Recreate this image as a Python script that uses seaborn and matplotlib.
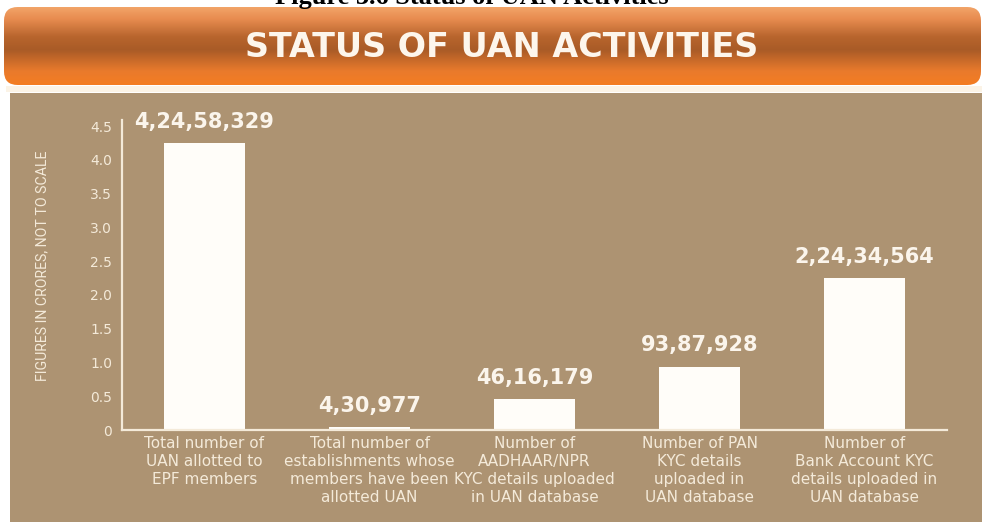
import matplotlib
matplotlib.use("Agg")
import matplotlib.pyplot as plt
import numpy as np
import pandas as pd
import seaborn as sns
from matplotlib.patches import Rectangle, FancyBboxPatch
from matplotlib.colors import LinearSegmentedColormap

# ---- data -------------------------------------------------------------
categories = [
    "Total number of\nUAN allotted to\nEPF members",
    "Total number of\nestablishments whose\nmembers have been\nallotted UAN",
    "Number of\nAADHAAR/NPR\nKYC details uploaded\nin UAN database",
    "Number of PAN\nKYC details\nuploaded in\nUAN database",
    "Number of\nBank Account KYC\ndetails uploaded in\nUAN database",
]
counts = [42458329, 430977, 4616179, 9387928, 22434564]
y_ticks = [0, 0.5, 1.0, 1.5, 2.0, 2.5, 3.0, 3.5, 4.0, 4.5]
y_tick_labels = ["0", "0.5", "1.0", "1.5", "2.0", "2.5", "3.0", "3.5", "4.0", "4.5"]


def indian_format(n):
    s = str(n)
    if len(s) <= 3:
        return s
    head, tail = s[:-3], s[-3:]
    groups = []
    while len(head) > 2:
        groups.insert(0, head[-2:])
        head = head[:-2]
    if head:
        groups.insert(0, head)
    return ",".join(groups + [tail])


df = pd.DataFrame({
    "activity": categories,
    "crores": [c / 1e7 for c in counts],
    "label": [indian_format(c) for c in counts],
})

# ---- colours ----------------------------------------------------------
PANEL = "#ad9372"
CREAM = "#f4ead9"
BAR = "#fffdf9"

W, H = 982, 522
fig = plt.figure(figsize=(W / 100, H / 100), dpi=100)
fig.patch.set_facecolor("white")

# tan backdrop panel
fig.patches.append(Rectangle((10 / W, 0), 1 - 10 / W, (H - 93) / H,
                             transform=fig.transFigure, facecolor=PANEL,
                             edgecolor="none", zorder=-10))
# pale strip under the banner
fig.patches.append(Rectangle((6 / W, (H - 92) / H), 1 - 6 / W, 6 / H,
                             transform=fig.transFigure, facecolor="#fbf3e6",
                             edgecolor="none", zorder=-10))

# caption (partly above the top edge)
fig.text(472 / W, 1 - 4 / H, "Figure 3.6 Status of UAN Activities",
         ha="center", va="baseline", fontsize=19, fontweight="bold",
         family="Liberation Serif", color="black")

# ---- orange banner -----------------------------------------------------
bx0, bx1, by0, by1 = 4, 981, 7, 85
bax = fig.add_axes([bx0 / W, (H - by1) / H, (bx1 - bx0) / W, (by1 - by0) / H])
bax.set_xlim(0, 1)
bax.set_ylim(0, 1)
bax.axis("off")
grad = LinearSegmentedColormap.from_list(
    "banner",
    [(0.0, "#f47d22"), (0.18, "#e97a2c"), (0.45, "#a95b27"),
     (0.62, "#b8652d"), (0.85, "#e88c50"), (1.0, "#f2a468")])
gy = np.linspace(0, 1, 256).reshape(-1, 1)
im = bax.imshow(gy, aspect="auto", cmap=grad, extent=(0, 1, 0, 1),
                origin="lower", interpolation="bicubic")
clip = FancyBboxPatch((0, 0), 1, 1, boxstyle="round,pad=0,rounding_size=0.014",
                      mutation_aspect=(bx1 - bx0) / (by1 - by0),
                      transform=bax.transAxes, facecolor="none", edgecolor="none")
bax.add_patch(clip)
im.set_clip_path(clip)
bax.text(0.509, 0.48, "STATUS OF UAN ACTIVITIES", ha="center", va="center",
         fontsize=24, fontweight="bold", family="DejaVu Sans",
         color="#fdf6ec", transform=bax.transAxes)

# ---- bar chart ---------------------------------------------------------
ax = fig.add_axes([122 / W, (H - 430) / H, (947 - 122) / W, (430 - 120) / H])
ax.patch.set_alpha(0)
sns.barplot(data=df, x="activity", y="crores", color=BAR, saturation=1,
            width=0.49, edgecolor="none", ax=ax)
ax.set_xlim(-0.5, 4.5)
ax.set_ylim(0, 4.59)

ax.bar_label(ax.containers[0], labels=df["label"], padding=8,
             fontsize=15, fontweight="bold", color="#fbf5ec",
             family="DejaVu Sans")

ax.set_yticks(y_ticks)
ax.set_yticklabels(y_tick_labels)
ax.tick_params(axis="y", length=0, pad=7, labelsize=10, labelcolor=CREAM)
ax.tick_params(axis="x", length=0, pad=4, labelsize=11, labelcolor=CREAM)
for lab in ax.get_xticklabels():
    lab.set_linespacing(1.25)
    lab.set_ha("center")

ax.set_xlabel("")
ax.set_ylabel("FIGURES IN CRORES, NOT TO SCALE", color=CREAM, fontsize=10.2,
              family=["Liberation Sans Narrow", "Roboto"], labelpad=0)
ax.yaxis.set_label_coords(-73 / 825, 0.53)

sns.despine(ax=ax)
for side in ("left", "bottom"):
    ax.spines[side].set_color(CREAM)
    ax.spines[side].set_linewidth(1.6)

fig.savefig("out.png", dpi=100)
